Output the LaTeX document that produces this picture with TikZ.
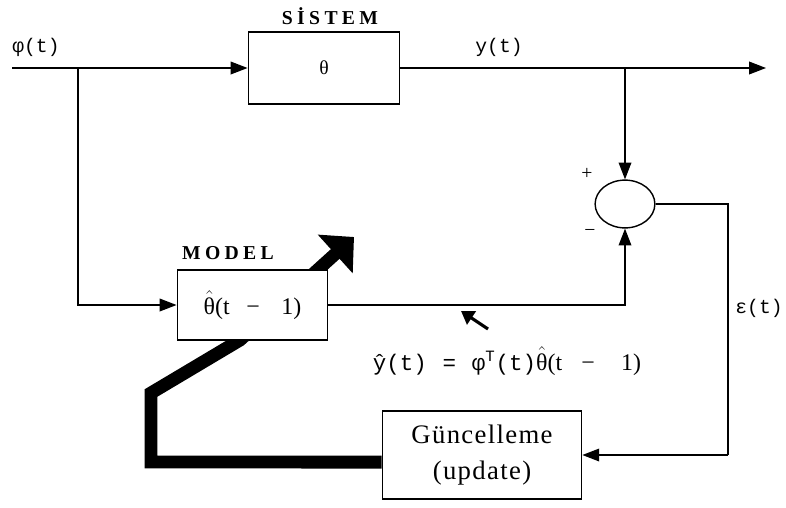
\documentclass[tikz,border=0pt]{standalone}
\usepackage{fontspec}
\setmainfont{Liberation Serif}
\newfontfamily\monofnt{Liberation Mono}
\usetikzlibrary{arrows.meta,shapes.geometric,backgrounds}
\newcommand{\thetahat}{$\hat{\hbox{θ}}$}
\tikzset{
  blok/.style={draw,line width=1pt,fill=white,inner sep=0pt},
  ok/.style={-{Triangle[length=12pt,width=9pt]}},
  baslik/.style={font=\fontsize{14}{14}\selectfont\bfseries\addfontfeatures{LetterSpace=22}},
  etiket/.style={font=\fontsize{14}{14}\selectfont\monofnt},
  metin/.style={font=\fontsize{19}{26}\selectfont\addfontfeatures{LetterSpace=5}}
}
\begin{document}
\begin{tikzpicture}[x=0.025cm,y=-0.025cm,line width=1pt]
\useasboundingbox (0,0) rectangle (786,507);
%bloklar
\node[blok,minimum width=107.7pt,minimum height=51pt] (sistem) at (324,68) {\fontsize{14}{14}\selectfont θ};
\node[blok,minimum width=107pt,minimum height=50pt] (model) at (252.5,305) {\fontsize{17}{17}\selectfont \thetahat(t\hspace{0.7em}−\hspace{0.9em}1)};
\node[blok,metin,minimum width=141.7pt,minimum height=62.4pt,align=center] (guncel) at (482,455) {Güncelleme\\(update)};
\node[draw,ellipse,inner sep=0pt,minimum width=42.5pt,minimum height=34pt] (toplam) at (625,204) {};
%etiketler
\node[baslik] (sistemlbl) at (330,16) {SİSTEM};
\node[baslik] (modellbl) at (228,253) {MODEL};
\node[etiket] (girislbl) at (36,47) {φ(t)};
\node[etiket] (cikislbl) at (499,47) {y(t)};
\node[etiket] (hatalbl) at (759,308) {ε(t)};
\node[font=\fontsize{14}{14}\selectfont] (arti) at (587,174) {+};
\node[font=\fontsize{14}{14}\selectfont] (eksi) at (590,233) {−};
\node (denklem) at (507,361) {\fontsize{16}{16}\selectfont{\monofnt ŷ(t)\hspace{0.7em}=\hspace{0.7em}φ\textsuperscript{T}(t)}{\fontsize{17}{17}\selectfont\thetahat(t\hspace{0.8em}−\hspace{1.1em}1)}};
%noktalar
\coordinate (giris) at (12,68);
\coordinate (cikis) at (766,68);
\coordinate (dal1) at (78,68);
\coordinate (dal2) at (625,68);
\coordinate (kose) at (728,455);
\coordinate (okA) at (488,329);
\coordinate (okB) at (461,311);
\coordinate (k1) at (151,462);
\coordinate (k2) at (151,393);
\coordinate (k3) at (240,340);
\coordinate (k4) at (354,237);
%baglantilar
\draw[ok] (giris) -- (sistem.west);
\draw[ok] (sistem.east) -- (cikis);
\draw[ok] (dal1) |- (model.west);
\draw[ok] (dal2) -- (toplam.north);
\draw[ok] (model.east) -| (toplam.south);
\draw (toplam.east) -| (kose);
\draw[ok] (kose) -- (guncel.east);
\draw[line width=2.2pt,-{Triangle[length=9pt,width=11pt]}] (okA) -- (okB);
%kalin ok (parametre ayari)
\begin{scope}[on background layer]
\draw[line width=9.2pt,-{Triangle[length=18pt,width=36pt]}] ([yshift=-5pt]guncel.west) -- (k1) -- (k2) -- (k3) -- (k4);
\end{scope}
\end{tikzpicture}
\end{document}
